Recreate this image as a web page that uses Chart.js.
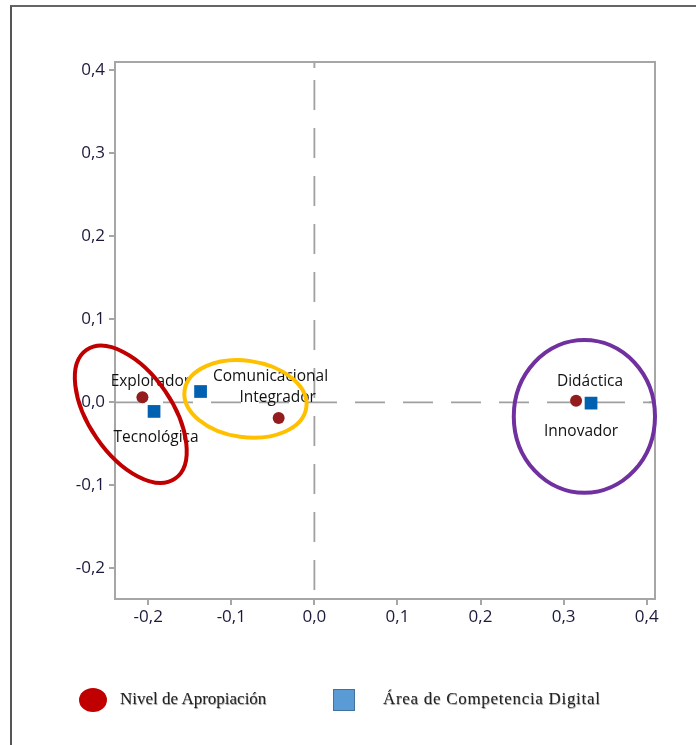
<!DOCTYPE html>
<html>
<head>
<meta charset="utf-8">
<script src="https://cdn.jsdelivr.net/npm/chart.js@4.4.1/dist/chart.umd.min.js"></script>
<style>
  html, body { margin: 0; padding: 0; background: #fff; }
  #wrap { position: relative; width: 696px; height: 745px; overflow: hidden; }
  #frame { position: absolute; left: 10px; top: 5px; width: 700px; height: 738px;
           border-left: 2px solid #555; border-top: 2px solid #666; border-bottom: 1px solid #aaa; }
  canvas { position: absolute; left: 0; top: 0; }
  .leg { position: absolute; font-family: "Liberation Serif", "DejaVu Serif", serif; font-size: 17px;
         color: #222; text-shadow: 0.6px 0.6px 0.8px #999; top: 689px; white-space: nowrap; }
  #m1 { position: absolute; left: 79px; top: 688px; width: 28px; height: 24px; border-radius: 50%; background: #c00000; }
  #m2 { position: absolute; left: 333px; top: 689px; width: 20px; height: 20px; background: #5b9bd5; border: 1px solid #41719c; }
</style>
</head>
<body>
<div id="wrap">
  <div id="frame"></div>
  <canvas id="c" width="696" height="745"></canvas>
  <div id="m1"></div>
  <div class="leg" style="left:120px">Nivel de Apropiación</div>
  <div id="m2"></div>
  <div class="leg" style="left:383px; letter-spacing:0.7px">Área de Competencia Digital</div>
</div>
<script>
// Nivel de Apropiación (puntos rojos)
const nivelLabels = ['Explorador', 'Integrador', 'Innovador'];
const nivelX = [-0.207, -0.043, 0.315];
const nivelY = [0.006, -0.019, 0.002];

// Área de Competencia Digital (cuadrados azules)
const areaLabels = ['Tecnológica', 'Comunicacional', 'Didáctica'];
const areaX = [-0.193, -0.137, 0.333];
const areaY = [-0.011, 0.013, -0.001];

const xTicks = [-0.2, -0.1, 0.0, 0.1, 0.2, 0.3, 0.4];
const yTicks = [-0.2, -0.1, 0.0, 0.1, 0.2, 0.3, 0.4];

// label offsets in px (dx, dy) relative to the point
const nivelOffsets = [[8, -16], [-1, -20], [5, 31]];
const areaOffsets = [[2, 26], [70, -15], [-1, -22]];

// grouping ellipses: centre (data), radii (data), rotation (deg), colour
const groups = [
  { cx: -0.221, cy: -0.0145, rx: 0.094, ry: 0.050, rot: 55.5, color: '#c00000' },
  { cx: -0.083, cy: 0.004, rx: 0.074, ry: 0.046, rot: 8, color: '#ffc000' },
  { cx: 0.325, cy: -0.017, rx: 0.085, ry: 0.092, rot: 0, color: '#7030a0' }
];

const fmt = v => v.toFixed(1).replace('.', ',').replace('-0,0', '0,0');
const pts = (xs, ys) => xs.map((x, i) => ({ x: x, y: ys[i] }));

const decor = {
  id: 'decor',
  beforeDatasetsDraw(chart) {
    const { ctx, chartArea: a, scales: { x, y } } = chart;
    ctx.save();
    ctx.strokeStyle = '#a6a6a6';
    ctx.lineWidth = 2;
    ctx.strokeRect(a.left, a.top, a.right - a.left, a.bottom - a.top);
    // inner ticks at zero on top / right
    ctx.beginPath();
    ctx.moveTo(x.getPixelForValue(0), a.top); ctx.lineTo(x.getPixelForValue(0), a.top + 6);
    ctx.moveTo(a.right, y.getPixelForValue(0)); ctx.lineTo(a.right - 6, y.getPixelForValue(0));
    ctx.stroke();
    ctx.lineWidth = 1.8;
    ctx.strokeStyle = '#a0a0a0';
    ctx.setLineDash([30, 18]);
    ctx.lineDashOffset = 30;
    ctx.beginPath();
    ctx.moveTo(x.getPixelForValue(0), a.top);
    ctx.lineTo(x.getPixelForValue(0), a.bottom);
    ctx.stroke();
    ctx.lineDashOffset = 0;
    ctx.beginPath();
    ctx.moveTo(a.left, y.getPixelForValue(0));
    ctx.lineTo(a.right, y.getPixelForValue(0));
    ctx.stroke();
    ctx.restore();
  },
  afterDatasetsDraw(chart) {
    const { ctx, scales: { x, y } } = chart;
    ctx.save();
    ctx.font = '15.5px "Open Sans", sans-serif';
    ctx.textAlign = 'center';
    ctx.textBaseline = 'middle';
    const put = (labels, xs, ys, offs) => labels.forEach((t, i) => {
      const px = x.getPixelForValue(xs[i]) + offs[i][0];
      const py = y.getPixelForValue(ys[i]) + offs[i][1];
      ctx.fillStyle = '#111';
      ctx.fillText(t, px, py);
    });
    put(nivelLabels, nivelX, nivelY, nivelOffsets);
    put(areaLabels, areaX, areaY, areaOffsets);
    const k = x.getPixelForValue(0.1) - x.getPixelForValue(0);
    groups.forEach(g => {
      ctx.beginPath();
      ctx.ellipse(x.getPixelForValue(g.cx), y.getPixelForValue(g.cy), g.rx * k * 10, g.ry * k * 10,
        g.rot * Math.PI / 180, 0, Math.PI * 2);
      ctx.lineWidth = 4;
      ctx.strokeStyle = g.color;
      ctx.stroke();
    });
    ctx.restore();
  }
};

const tickFont = { family: '"Open Sans", sans-serif', size: 17 };

new Chart(document.getElementById('c'), {
  type: 'scatter',
  data: {
    datasets: [
      { label: 'Nivel de Apropiación', data: pts(nivelX, nivelY), pointStyle: 'circle',
        pointRadius: 6, backgroundColor: '#941c1c', borderColor: '#941c1c', borderWidth: 0 },
      { label: 'Área de Competencia Digital', data: pts(areaX, areaY), pointStyle: 'rect',
        pointRadius: 9, backgroundColor: '#0061b0', borderColor: '#0061b0', borderWidth: 0 }
    ]
  },
  options: {
    responsive: false,
    animation: false,
    devicePixelRatio: 1,
    layout: { padding: { left: 0, right: 41, top: 62, bottom: 0 } },
    plugins: { legend: { display: false }, tooltip: { enabled: false } },
    scales: {
      x: {
        type: 'linear', min: -0.24, max: 0.41,
        afterBuildTicks: s => { s.ticks = xTicks.map(v => ({ value: v })); },
        afterFit: s => { s.height = 146; },
        grid: { drawOnChartArea: false, color: '#a6a6a6', tickLength: 6, lineWidth: 2 },
        border: { color: '#a6a6a6', width: 2 },
        ticks: { callback: v => fmt(v), font: tickFont, color: '#1a1a3c', padding: 2, maxRotation: 0 }
      },
      y: {
        type: 'linear', min: -0.237, max: 0.41,
        afterBuildTicks: s => { s.ticks = yTicks.map(v => ({ value: v })); },
        afterFit: s => { s.width = 115; },
        grid: { drawOnChartArea: false, color: '#a6a6a6', tickLength: 6, lineWidth: 2 },
        border: { color: '#a6a6a6', width: 2 },
        ticks: { callback: v => fmt(v), font: tickFont, color: '#1a1a3c', padding: 4 }
      }
    }
  },
  plugins: [decor]
});
</script>
</body>
</html>
